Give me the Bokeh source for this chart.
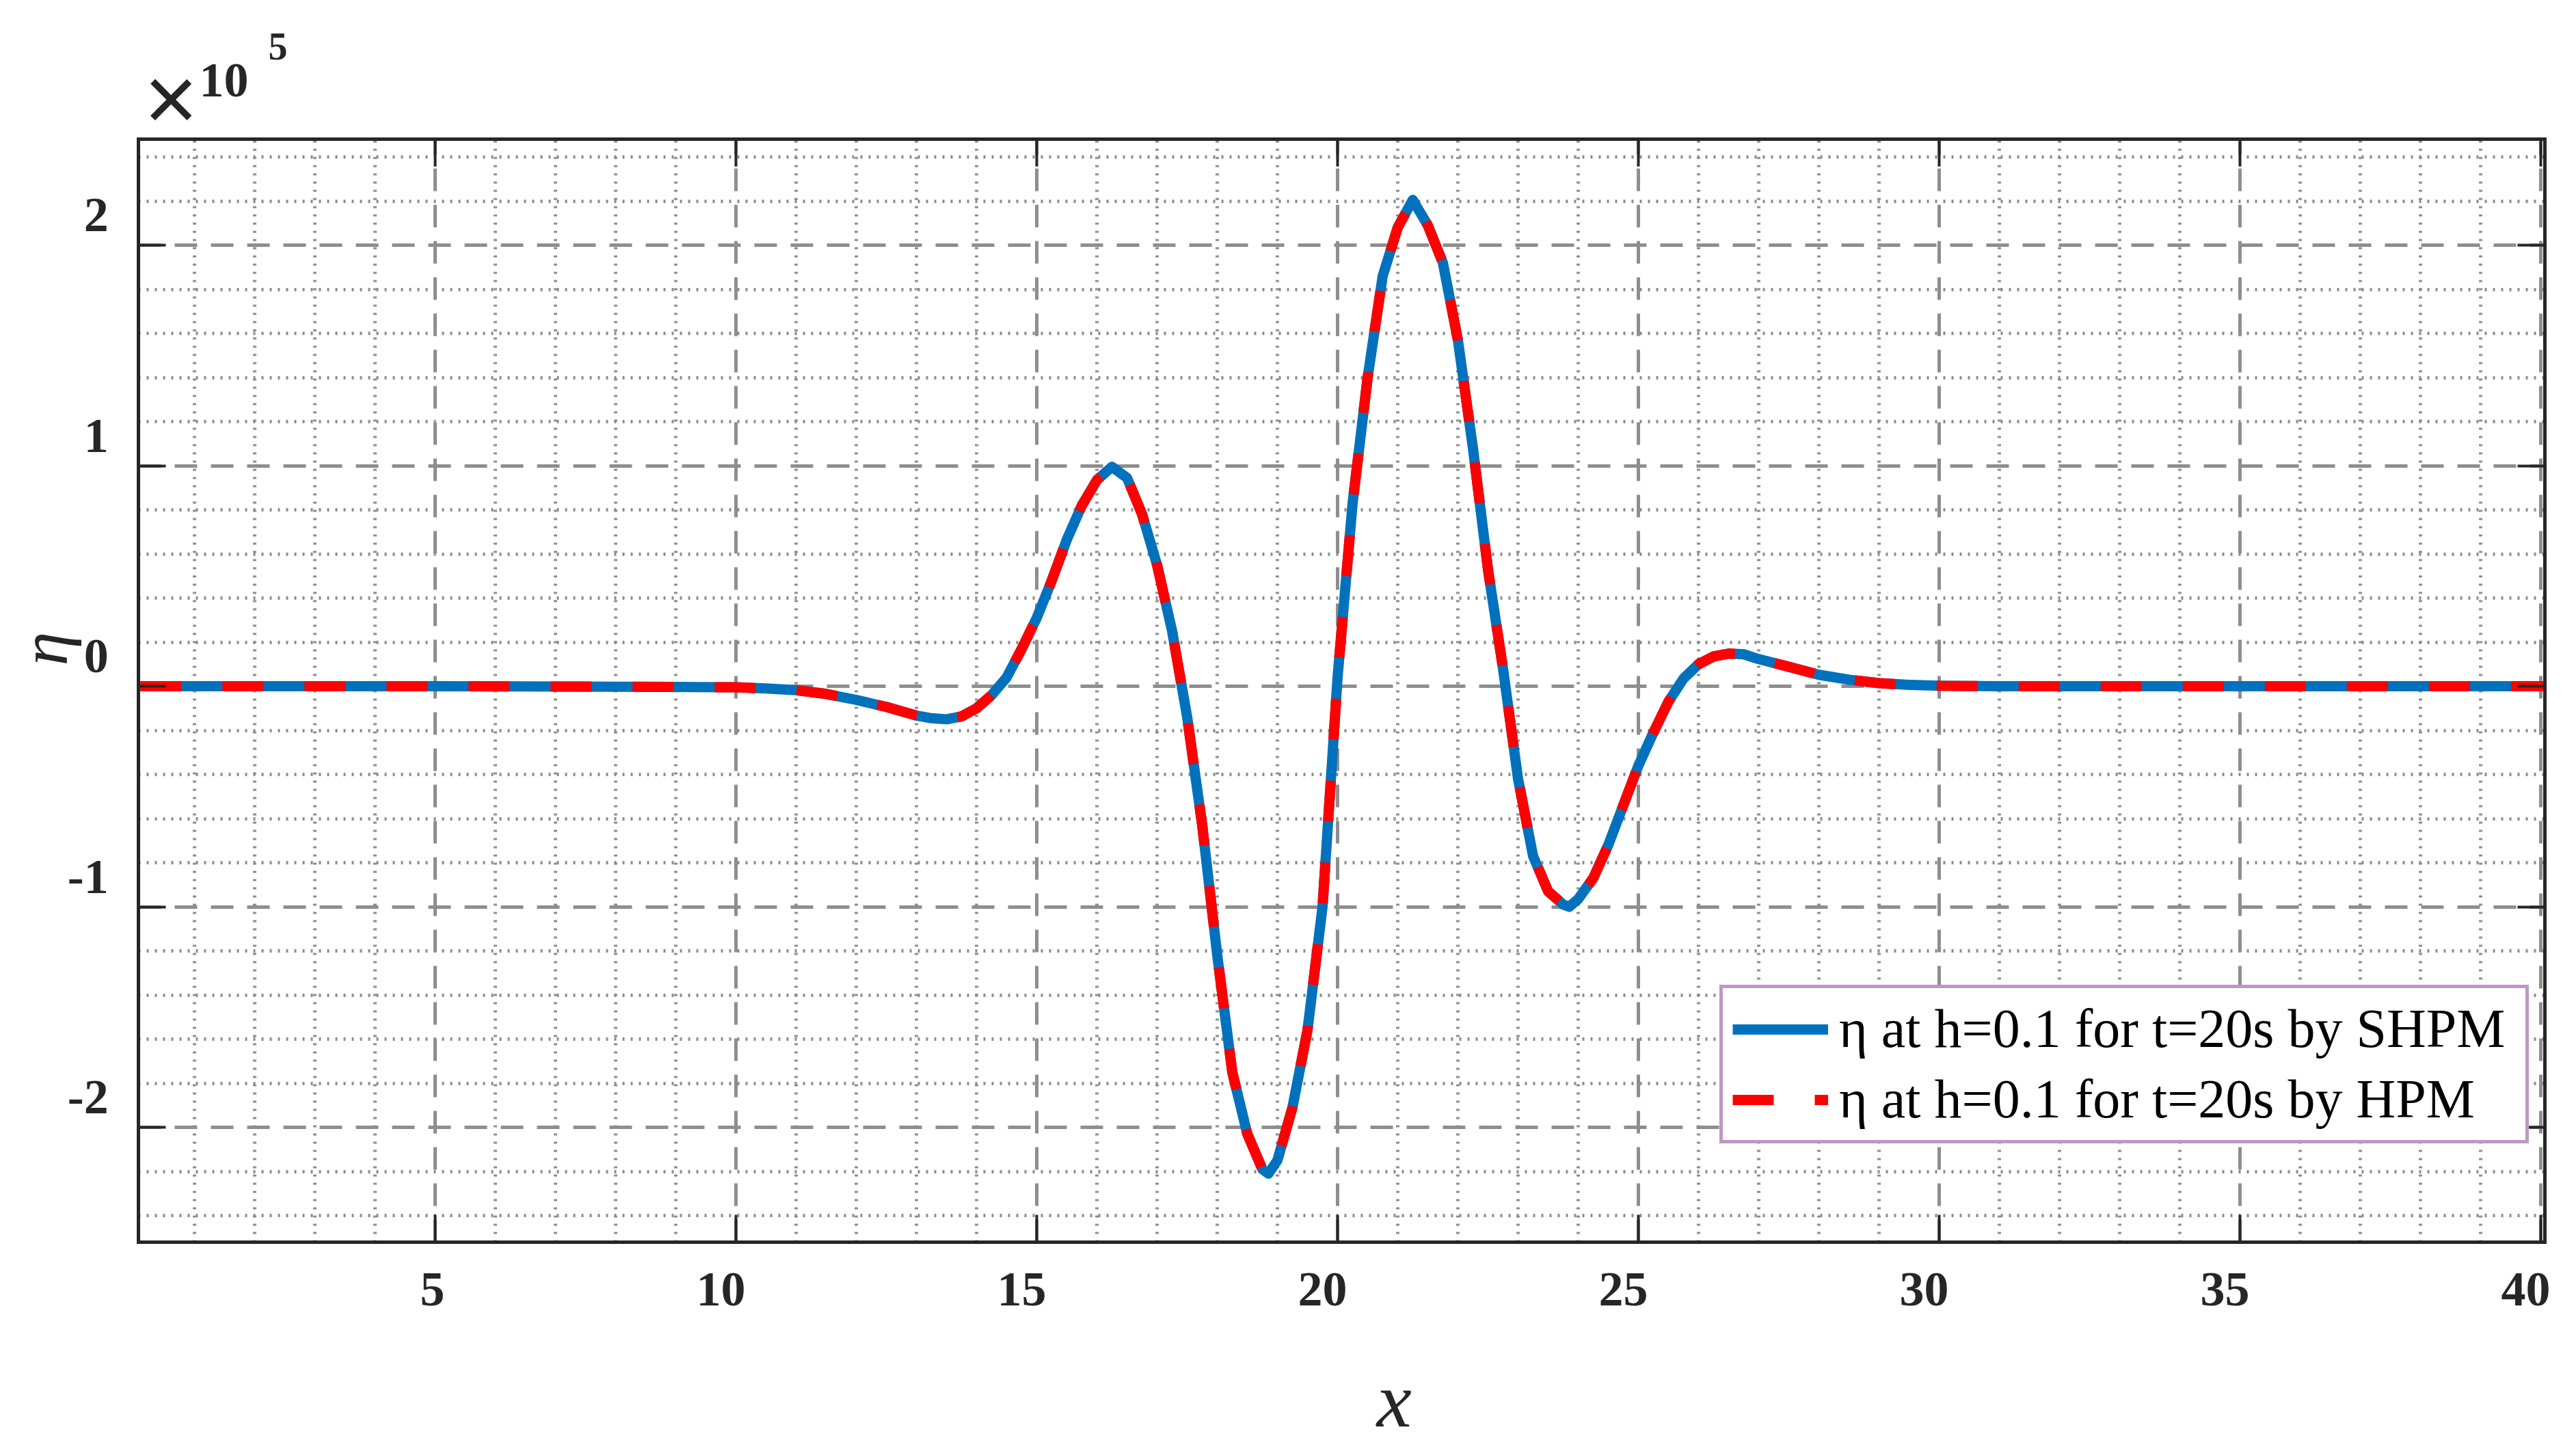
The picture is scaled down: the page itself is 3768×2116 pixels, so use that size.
import math
from bokeh.plotting import figure
from bokeh.models import (Range1d, FixedTicker, LinearAxis, Grid, Label, LabelSet, Legend,
                          LegendItem, CustomJSTickFormatter, ColumnDataSource)
from bokeh.core.properties import value
from bokeh.embed import file_html
from bokeh.resources import INLINE

# ---------------- data (values in units of the x10^5 axis multiplier) ----------------
x_vals = [0.1, 5.0, 8.0, 9.0, 10.0, 10.5, 11.0, 11.5, 12.0, 12.5, 13.0, 13.25, 13.5, 13.75,
          14.0, 14.25, 14.5, 14.75, 15.0, 15.25, 15.5, 15.75, 16.0, 16.25, 16.5, 16.75,
          17.0, 17.25, 17.5, 17.75, 18.0, 18.25, 18.5, 18.75, 18.85, 19.0, 19.25, 19.5,
          19.75, 20.0, 20.25, 20.5, 20.75, 21.0, 21.25, 21.5, 21.75, 22.0, 22.25, 22.5,
          22.75, 23.0, 23.25, 23.5, 23.75, 23.85, 24.0, 24.25, 24.5, 24.75, 25.0, 25.25,
          25.5, 25.75, 26.0, 26.25, 26.5, 26.75, 27.0, 27.5, 28.0, 28.5, 29.0, 29.5,
          30.0, 31.0, 35.0, 40.05]

eta_shpm = [0.0, 0.0, -0.002, -0.003, -0.005, -0.010, -0.018, -0.035, -0.062, -0.094,
            -0.133, -0.145, -0.150, -0.137, -0.100, -0.040, 0.040, 0.170, 0.310, 0.480,
            0.665, 0.820, 0.935, 0.995, 0.945, 0.780, 0.550, 0.250, -0.140, -0.630,
            -1.220, -1.750, -2.030, -2.190, -2.210, -2.150, -1.910, -1.560, -1.000, 0.040,
            0.830, 1.400, 1.860, 2.080, 2.205, 2.090, 1.920, 1.570, 1.080, 0.530,
            0.080, -0.420, -0.770, -0.930, -0.990, -1.000, -0.965, -0.870, -0.720, -0.540,
            -0.360, -0.210, -0.070, 0.035, 0.100, 0.135, 0.148, 0.145, 0.123, 0.088,
            0.052, 0.030, 0.014, 0.006, 0.002, 0.0, 0.0, 0.0]

eta_hpm = [0.0, 0.0, -0.002, -0.003, -0.005, -0.010, -0.018, -0.035, -0.062, -0.094,
           -0.133, -0.145, -0.150, -0.137, -0.100, -0.040, 0.040, 0.170, 0.310, 0.480,
           0.665, 0.820, 0.935, 0.995, 0.945, 0.780, 0.550, 0.250, -0.140, -0.630,
           -1.220, -1.750, -2.030, -2.190, -2.210, -2.150, -1.910, -1.560, -1.000, 0.040,
           0.830, 1.400, 1.860, 2.080, 2.205, 2.090, 1.920, 1.570, 1.080, 0.530,
           0.080, -0.420, -0.770, -0.930, -0.990, -1.000, -0.965, -0.870, -0.720, -0.540,
           -0.360, -0.210, -0.070, 0.035, 0.100, 0.135, 0.148, 0.145, 0.123, 0.088,
           0.052, 0.030, 0.014, 0.006, 0.002, 0.0, 0.0, 0.0]

x_ticks = [5, 10, 15, 20, 25, 30, 35, 40]
x_tick_labels = ["5", "10", "15", "20", "25", "30", "35", "40"]
y_ticks = [-2, -1, 0, 1, 2]
y_tick_labels = ["-2", "-1", "0", "1", "2"]
x_minor = [v for v in range(1, 41) if v % 5 != 0]
y_minor = [round(-2.4 + 0.2 * i, 1) for i in range(25) if abs(round(-2.4 + 0.2 * i, 1) % 1) > 1e-6]

x_limits = (0.07, 40.07)
y_limits = (-2.52, 2.48)

series_labels = ["\u03b7 at h=0.1 for t=20s by SHPM", "\u03b7 at h=0.1 for t=20s by HPM"]

# ---------------- layout: the frame spans the whole canvas, the axes box is drawn inside ----------------
W, H = 3752, 2100
PX0, PY0 = 8, 3            # page offset of the canvas
SX, SY = 88.0, 322.5       # pixels per data unit
OX, OY = 204.0, 1006.0     # page position of data (0, 0)
xr = Range1d((PX0 - OX) / SX, (PX0 + W - OX) / SX)
yr = Range1d((OY - PY0 - H) / SY, (OY - PY0) / SY)

p = figure(width=W, height=H, output_backend="svg", toolbar_location=None,
           x_range=xr, y_range=yr, x_axis_type=None, y_axis_type=None,
           min_border=0, min_border_left=0, min_border_right=0,
           min_border_top=0, min_border_bottom=0)
p.background_fill_color = "white"
p.border_fill_color = "white"
p.outline_line_color = None

AX = "#262626"
GRID = "#8e8e8e"
xt = FixedTicker(ticks=x_ticks, minor_ticks=x_minor)
yt = FixedTicker(ticks=y_ticks, minor_ticks=y_minor)

# ---------------- grid ----------------
if "cross_bounds" in Grid.properties():
    for dim, tk, b, cb in ((0, xt, x_limits, y_limits), (1, yt, y_limits, x_limits)):
        g = Grid(dimension=dim, ticker=tk, bounds=b, cross_bounds=cb)
        g.grid_line_color = GRID
        g.grid_line_width = 5
        g.grid_line_dash = "33 20"
        g.minor_grid_line_color = GRID
        g.minor_grid_line_width = 5
        g.minor_grid_line_dash = "3 9"
        p.add_layout(g, "center")
else:
    maj = dict(line_color=GRID, line_width=5, line_dash="33 20", level="underlay")
    mnr = dict(line_color=GRID, line_width=5, line_dash="3 9", level="underlay")
    p.segment(x0=x_minor, x1=x_minor, y0=[y_limits[0]] * len(x_minor),
              y1=[y_limits[1]] * len(x_minor), **mnr)
    p.segment(x0=[x_limits[0]] * len(y_minor), x1=[x_limits[1]] * len(y_minor),
              y0=y_minor, y1=y_minor, **mnr)
    p.segment(x0=x_ticks, x1=x_ticks, y0=[y_limits[0]] * len(x_ticks),
              y1=[y_limits[1]] * len(x_ticks), **maj)
    p.segment(x0=[x_limits[0]] * len(y_ticks), x1=[x_limits[1]] * len(y_ticks),
              y0=y_ticks, y1=y_ticks, **maj)

# ---------------- curves ----------------
r1 = p.line(x_vals, eta_shpm, line_color="#0072BD", line_width=15, line_join="round")
r2 = p.line(x_vals, eta_hpm, line_color="#FF0000", line_width=15, line_dash="60 60",
            line_cap="butt")

# ---------------- box axes (fixed at the limits, ticks pointing inward) ----------------
blank = CustomJSTickFormatter(code="return ''")


def box_axis(place, loc, ticker, bounds):
    ax = LinearAxis(ticker=ticker, fixed_location=loc, bounds=bounds, formatter=blank)
    ax.axis_line_color = AX
    ax.axis_line_width = 5
    ax.axis_line_cap = "square"
    ax.major_tick_in = 40
    ax.major_tick_out = 0
    ax.major_tick_line_color = AX
    ax.major_tick_line_width = 4
    ax.minor_tick_in = 0
    ax.minor_tick_out = 0
    ax.minor_tick_line_color = None
    ax.major_label_text_font_size = "1px"
    ax.major_label_standoff = 0
    p.add_layout(ax, place)


box_axis("below", y_limits[0], xt, x_limits)
box_axis("above", y_limits[1], xt, x_limits)
box_axis("left", x_limits[0], yt, y_limits)
box_axis("right", x_limits[1], yt, y_limits)

# ---------------- tick labels ----------------
xsrc = ColumnDataSource(dict(x=x_ticks, y=[y_limits[0]] * len(x_ticks), t=x_tick_labels))
p.add_layout(LabelSet(x="x", y="y", text="t", source=xsrc, x_offset=14, y_offset=-69,
                      text_align=value("right"), text_baseline=value("middle"),
                      text_font=value("Liberation Serif"), text_font_style=value("bold"),
                      text_font_size=value("72px"), text_color=value(AX)))
ysrc = ColumnDataSource(dict(x=[x_limits[0]] * len(y_ticks), y=y_ticks, t=y_tick_labels))
p.add_layout(LabelSet(x="x", y="y", text="t", source=ysrc, x_offset=-44, y_offset=44,
                      text_align=value("right"), text_baseline=value("middle"),
                      text_font=value("Liberation Serif"), text_font_style=value("bold"),
                      text_font_size=value("72px"), text_color=value(AX)))

# ---------------- axis multiplier and axis titles ----------------
p.add_layout(Label(x=0.61, y=2.664, text="\u00d7", text_font="Liberation Sans",
                   text_font_size="135px", text_color=AX, text_align="center",
                   text_baseline="middle"))
p.add_layout(Label(x=1.08, y=2.747, text="10", text_font="Liberation Serif",
                   text_font_style="bold", text_font_size="72px", text_color=AX,
                   text_align="left", text_baseline="alphabetic"))
p.add_layout(Label(x=2.227, y=2.902, text="5", text_font="Liberation Serif",
                   text_font_style="bold", text_font_size="56px", text_color=AX,
                   text_align="left", text_baseline="alphabetic"))
p.add_layout(Label(x=20.94, y=-3.237, text="x", text_font="Liberation Serif",
                   text_font_style="italic", text_font_size="115px", text_color=AX,
                   text_align="center", text_baseline="alphabetic"))
p.add_layout(Label(x=-1.5, y=0.17, text="\u03b7", text_font="Liberation Serif",
                   text_font_style="italic", text_font_size="100px", text_color=AX,
                   text_align="center", text_baseline="alphabetic", angle=math.pi / 2))

# ---------------- legend ----------------
legend = Legend(items=[LegendItem(label=series_labels[0], renderers=[r1]),
                       LegendItem(label=series_labels[1], renderers=[r2])],
                location=(2515, 428))
legend.label_text_font = "Liberation Serif"
legend.label_text_font_size = "80px"
legend.label_text_color = "black"
legend.glyph_width = 140
legend.glyph_height = 20
legend.label_height = 88
legend.label_width = 990
legend.label_standoff = 16
legend.spacing = 12
legend.padding = 14
legend.margin = 0
legend.border_line_color = "#7E2F8E"
legend.border_line_width = 5
legend.background_fill_color = "white"
legend.background_fill_alpha = 1.0
p.add_layout(legend, "center")

open("out.html", "w").write(file_html(p, INLINE))
